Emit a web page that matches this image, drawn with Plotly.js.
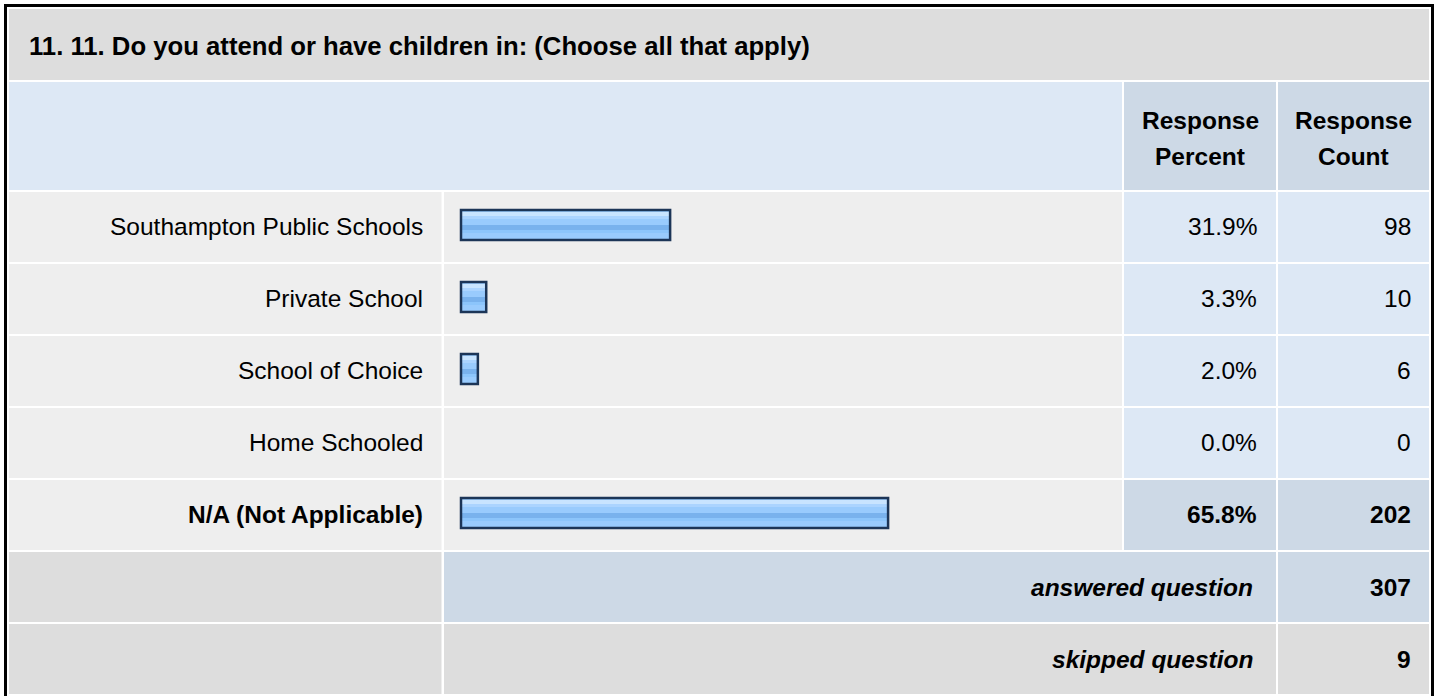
<!DOCTYPE html>
<html>
<head>
<meta charset="utf-8">
<script src="https://cdn.plot.ly/plotly-3.0.1.min.js"></script>
<style>html,body{margin:0;padding:0;background:#fff;}#chart{width:1440px;height:696px;}</style>
</head>
<body>
<div id="chart"></div>
<script>
// ---- data ----
const questionTitle = "11. 11. Do you attend or have children in: (Choose all that apply)";
const headerPercent = ["Response", "Percent"];
const headerCount = ["Response", "Count"];
const categories = ["Southampton Public Schools", "Private School", "School of Choice", "Home Schooled", "N/A (Not Applicable)"];
const percents = [31.9, 3.3, 2.0, 0.0, 65.8];
const counts = [98, 10, 6, 0, 202];
const answeredLabel = "answered question";
const answeredCount = 307;
const skippedLabel = "skipped question";
const skippedCount = 9;

// ---- layout constants (pixels) ----
const W = 1440, H = 696;
const FONT = "'Liberation Sans', Arial, Helvetica, sans-serif";
const C_GRAY = "#dddddd", C_ROW = "#eeeeee", C_BLUE = "#dde8f5", C_BLUE2 = "#cdd9e6";
const ROW0 = 192, ROWSTEP = 72, ROWH = 70;
const COL = {l0: 9, l1: 441.5, b0: 444, b1: 1122, p0: 1124, p1: 1276, c0: 1278, c1: 1429};
const PX_PER_PCT = 6.43, ZERO_PX = 465, BAR_PAD_PX = 4;
const BAR_CENTER_OFF = -2; // bar centre relative to row centre

const px = x => x / W;
const py = y => 1 - y / H;
function rect(x0, y0, x1, y1, fill) {
  return {type: 'rect', xref: 'paper', yref: 'paper', x0: px(x0), x1: px(x1), y0: py(y1), y1: py(y0),
          fillcolor: fill, line: {width: 0}, layer: 'below'};
}
function ann(text, x, y, xanchor, opts) {
  opts = opts || {};
  return {text: text, xref: 'paper', yref: 'paper', x: px(x), y: py(y), xanchor: xanchor, yanchor: 'middle',
          showarrow: false, align: opts.align || xanchor,
          font: {family: FONT, size: opts.size || 24.5, color: '#000', weight: opts.bold ? 'bold' : 'normal',
                 style: opts.italic ? 'italic' : 'normal'}};
}

const maxIdx = percents.indexOf(Math.max.apply(null, percents));
const shapes = [];
const annotations = [];

// title row
shapes.push(rect(COL.l0, 9, COL.c1, 80, C_GRAY));
annotations.push(ann(questionTitle, 27, 46, 'left', {bold: true, size: 25.7}));
// header row
shapes.push(rect(COL.l0, 82, COL.b1, 190, C_BLUE));
shapes.push(rect(COL.p0, 82, COL.p1, 190, C_BLUE2));
shapes.push(rect(COL.c0, 82, COL.c1, 190, C_BLUE2));
[121, 156].forEach((y, k) => {
  annotations.push(ann(headerPercent[k], (COL.p0 + COL.p1) / 2, y, 'center', {bold: true}));
  annotations.push(ann(headerCount[k], (COL.c0 + COL.c1) / 2, y, 'center', {bold: true}));
});

// data rows
categories.forEach((cat, i) => {
  const rt = ROW0 + i * ROWSTEP, rb = rt + ROWH, mid = (rt + rb) / 2;
  const hi = i === maxIdx;
  shapes.push(rect(COL.l0, rt, COL.l1, rb, C_ROW));
  shapes.push(rect(COL.b0, rt, COL.b1, rb, C_ROW));
  shapes.push(rect(COL.p0, rt, COL.p1, rb, hi ? C_BLUE2 : C_BLUE));
  shapes.push(rect(COL.c0, rt, COL.c1, rb, hi ? C_BLUE2 : C_BLUE));
  annotations.push(ann(cat, COL.l1 - 17, mid - 0.5, 'right', {bold: hi}));
  annotations.push(ann(percents[i].toFixed(1) + '%', COL.p1 - 17, mid - 0.5, 'right', {bold: hi}));
  annotations.push(ann(String(counts[i]), COL.c1 - 16, mid - 0.5, 'right', {bold: hi}));
});

// answered row
let rowTop = ROW0 + categories.length * ROWSTEP;
shapes.push(rect(COL.l0, rowTop, COL.l1, rowTop + ROWH, C_GRAY));
shapes.push(rect(COL.b0, rowTop, COL.p1, rowTop + ROWH, C_BLUE2));
shapes.push(rect(COL.c0, rowTop, COL.c1, rowTop + ROWH, C_BLUE2));
annotations.push(ann(answeredLabel, COL.p1 - 21, rowTop + ROWH / 2, 'right', {bold: true, italic: true}));
annotations.push(ann(String(answeredCount), COL.c1 - 16, rowTop + ROWH / 2, 'right', {bold: true}));
// skipped row
rowTop += ROWSTEP;
shapes.push(rect(COL.l0, rowTop, COL.l1, rowTop + ROWH, C_GRAY));
shapes.push(rect(COL.b0, rowTop, COL.p1, rowTop + ROWH, C_GRAY));
shapes.push(rect(COL.c0, rowTop, COL.c1, rowTop + ROWH, C_GRAY));
annotations.push(ann(skippedLabel, COL.p1 - 21, rowTop + ROWH / 2, 'right', {bold: true, italic: true}));
annotations.push(ann(String(skippedCount), COL.c1 - 16, rowTop + ROWH / 2, 'right', {bold: true}));

// outer border
shapes.push({type: 'rect', xref: 'paper', yref: 'paper', x0: px(5.5), x1: px(1432.5), y0: py(705), y1: py(5.5),
             line: {color: '#000', width: 3}, fillcolor: 'rgba(0,0,0,0)', layer: 'above'});

// ---- axes mapping: x in percent, y in category index ----
const xr = [(0 - ZERO_PX) / PX_PER_PCT, (W - ZERO_PX) / PX_PER_PCT];
const c0 = ROW0 + ROWH / 2 + BAR_CENTER_OFF; // centre of first bar in px
const yr = [(H - c0) / ROWSTEP, (0 - c0) / ROWSTEP]; // bottom, top (reversed)

const base = percents.map(v => v > 0 ? -BAR_PAD_PX / PX_PER_PCT : 0);
function barTrace(color, offPx, hPx, line) {
  return {type: 'bar', orientation: 'h', y: categories,
          x: percents.map((v, i) => v > 0 ? v - base[i] : null), base: base,
          width: hPx / ROWSTEP, offset: offPx / ROWSTEP,
          marker: {color: color, line: line || {width: 0}}, hoverinfo: 'skip', showlegend: false};
}
const traces = [
  barTrace('#99cbfd', -15, 30),
  barTrace('#c8e4ff', -13, 4),
  barTrace('#abd4ff', -9, 3),
  barTrace('#79b2ed', 0, 5),
  barTrace('#8cc5fb', 5, 3),
  barTrace('rgba(0,0,0,0)', -15, 30, {color: '#1c3557', width: 2.5})
];

const layout = {
  width: W, height: H, margin: {l: 0, r: 0, t: 0, b: 0},
  paper_bgcolor: '#ffffff', plot_bgcolor: 'rgba(0,0,0,0)',
  barmode: 'overlay', showlegend: false,
  xaxis: {range: xr, visible: false, fixedrange: true},
  yaxis: {type: 'category', categoryorder: 'array', categoryarray: categories, range: yr, visible: false, fixedrange: true},
  shapes: shapes, annotations: annotations
};
Plotly.newPlot('chart', traces, layout, {displayModeBar: false, staticPlot: true});
</script>
</body>
</html>
